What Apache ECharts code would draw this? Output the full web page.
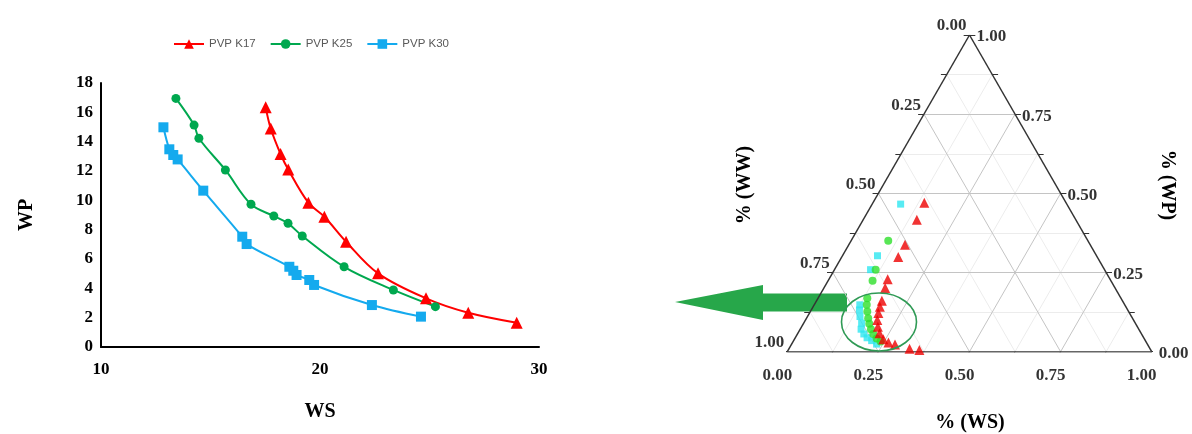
<!DOCTYPE html>
<html>
<head>
<meta charset="utf-8">
<script src="https://cdn.jsdelivr.net/npm/echarts@6/dist/echarts.min.js"></script>
<style>html,body{margin:0;padding:0;background:#fff}#main{width:1192px;height:434px}</style>
</head>
<body>
<div id="main"></div>
<script>
// 左图：WS - WP
var k17WS = [17.52, 17.75, 18.2, 18.55, 19.47, 20.2, 21.19, 22.65, 24.84, 26.77, 28.98];
var k17WP = [16.34, 14.9, 13.16, 12.1, 9.84, 8.88, 7.18, 5.02, 3.32, 2.34, 1.66];
var k25WS = [13.42, 14.25, 14.47, 15.68, 16.85, 17.89, 18.54, 19.19, 21.1, 23.35, 25.27];
var k25WP = [16.95, 15.13, 14.23, 12.07, 9.73, 8.93, 8.43, 7.57, 5.47, 3.89, 2.75];
var k30WS = [12.85, 13.12, 13.3, 13.5, 14.67, 16.45, 16.65, 18.6, 18.78, 18.93, 19.51, 19.73, 22.37, 24.61];
var k30WP = [14.98, 13.48, 13.09, 12.79, 10.66, 7.52, 7.02, 5.47, 5.2, 4.91, 4.57, 4.23, 2.86, 2.07];

// 右图：三元相图 [WS, WP]（分数）
var terK17 = [[0.141, 0.470], [0.147, 0.417], [0.154, 0.338], [0.155, 0.299], [0.161, 0.229], [0.168, 0.201],
    [0.179, 0.161], [0.183, 0.142], [0.189, 0.122], [0.197, 0.100], [0.209, 0.079], [0.224, 0.058],
    [0.244, 0.039], [0.263, 0.029], [0.284, 0.023], [0.331, 0.009], [0.360, 0.005]];
var terK25 = [[0.102, 0.350], [0.113, 0.259], [0.122, 0.224], [0.135, 0.169], [0.144, 0.148], [0.156, 0.127],
    [0.169, 0.106], [0.181, 0.088], [0.194, 0.071], [0.208, 0.056], [0.224, 0.042], [0.240, 0.032]];
var terK30 = [[0.078, 0.466], [0.096, 0.303], [0.099, 0.259], [0.125, 0.148], [0.132, 0.132], [0.144, 0.111],
    [0.159, 0.090], [0.167, 0.071], [0.182, 0.056], [0.197, 0.044], [0.214, 0.035], [0.233, 0.024]];
var terTicks = [0, 0.25, 0.5, 0.75, 1];

var H = Math.sqrt(3) / 2;
function tern(ws, wp) { return [ws + wp / 2, wp * H]; }
function zip(a, b) { return a.map(function (v, i) { return [v, b[i]]; }); }

var serif = "'Liberation Serif', 'Times New Roman', serif";

// 三元网格线
var minorLines = [], majorLines = [], edgeLines = [], tickLines = [];
for (var i = 1; i < 8; i++) {
    var t = i / 8;
    var segs = [
        [tern(0, t), tern(1 - t, t)],          // WP = t
        [tern(t, 0), tern(t, 1 - t)],          // WS = t
        [tern(1 - t, 0), tern(0, 1 - t)]       // WW = t
    ];
    segs.forEach(function (s) {
        (i % 2 === 0 ? majorLines : minorLines).push({ coords: s });
    });
}
edgeLines.push({ coords: [tern(0, 0), tern(1, 0)] });
edgeLines.push({ coords: [tern(1, 0), tern(0, 1)] });
edgeLines.push({ coords: [tern(0, 1), tern(0, 0)] });
for (var j = 0; j <= 8; j++) {
    var s = j / 8, p;
    p = tern(s, 0);
    tickLines.push({ coords: [p, [p[0] - 0.007, p[1] - 0.012]] });
    p = tern(0, 1 - s);
    tickLines.push({ coords: [p, [p[0] - 0.016, p[1]]] });
    p = tern(1 - s, s);
    tickLines.push({ coords: [p, [p[0] + 0.016, p[1]]] });
}

var lblStyle = { fontFamily: serif, fontWeight: 'bold', fontSize: 17, color: '#000' };
var bottomLabels = terTicks.map(function (v) {
    return { value: tern(v, 0), label: { show: true, formatter: v.toFixed(2), position: 'inside', offset: [-10, 24], align: 'center' } };
});
var leftLabels = terTicks.map(function (v) {
    return { value: tern(0, 1 - v), label: { show: true, formatter: v.toFixed(2), position: 'inside', offset: [-3, -9], align: 'right' } };
});
var rightLabels = terTicks.map(function (v) {
    return { value: tern(1 - v, v), label: { show: true, formatter: v.toFixed(2), position: 'inside', offset: [7, 2], align: 'left' } };
});

var myChart = echarts.init(document.getElementById('main'));

var terBase = { coordinateSystem: 'cartesian2d', xAxisIndex: 1, yAxisIndex: 1, silent: true, animation: false };

var option = {
    backgroundColor: '#fff',
    animation: false,
    legend: {
        data: ['PVP K17', 'PVP K25', 'PVP K30'],
        left: 168,
        top: 33,
        itemWidth: 30,
        itemHeight: 12,
        itemGap: 14,
        textStyle: { color: '#595959', fontSize: 11.5, fontFamily: "'Liberation Sans', Arial, sans-serif" }
    },
    grid: [
        { left: 101, top: 83, width: 438, height: 264 },
        { left: 787.3, top: 35, width: 364.4, height: 316.7 }
    ],
    xAxis: [{
        type: 'value', min: 10, max: 30, interval: 10,
        name: 'WS', nameLocation: 'middle', nameGap: 55,
        nameTextStyle: { fontFamily: serif, fontWeight: 'bold', fontSize: 20, color: '#000' },
        axisLine: { lineStyle: { color: '#000', width: 2 } },
        axisTick: { show: false },
        splitLine: { show: false },
        axisLabel: { fontFamily: serif, fontWeight: 'bold', fontSize: 17, color: '#000', margin: 14 }
    }, {
        gridIndex: 1, type: 'value', min: 0, max: 1, show: false
    }],
    yAxis: [{
        type: 'value', min: 0, max: 18, interval: 2,
        name: 'WP', nameLocation: 'middle', nameGap: 64, nameRotate: 90,
        nameTextStyle: { fontFamily: serif, fontWeight: 'bold', fontSize: 20, color: '#000' },
        axisLine: { show: true, lineStyle: { color: '#000', width: 2 } },
        axisTick: { show: false },
        splitLine: { show: false },
        axisLabel: { fontFamily: serif, fontWeight: 'bold', fontSize: 17, color: '#000', margin: 8 }
    }, {
        gridIndex: 1, type: 'value', min: 0, max: H, show: false
    }],
    graphic: [
        { type: 'polygon', z: 1, shape: { points: [[675, 302], [763, 285], [763, 293.5], [847, 293.5], [847, 311.5], [763, 311.5], [763, 320]] }, style: { fill: '#27a74a' } },
        { type: 'ellipse', z: 100, shape: { cx: 879, cy: 322, rx: 37.5, ry: 29 }, style: { fill: 'none', stroke: '#2f9a55', lineWidth: 1.6 } },
        { type: 'text', x: 745, y: 185, rotation: Math.PI / 2, style: { text: '% (WW)', font: 'bold 20px ' + serif, fill: '#000', textAlign: 'center', textVerticalAlign: 'middle', align: 'center', verticalAlign: 'middle' } },
        { type: 'text', x: 1167, y: 185, rotation: -Math.PI / 2, style: { text: '% (WP)', font: 'bold 20px ' + serif, fill: '#000', textAlign: 'center', textVerticalAlign: 'middle', align: 'center', verticalAlign: 'middle' } },
        { type: 'text', x: 970, y: 423, style: { text: '% (WS)', font: 'bold 20px ' + serif, fill: '#000', textAlign: 'center', textVerticalAlign: 'middle', align: 'center', verticalAlign: 'middle' } }
    ],
    series: [
        {
            name: 'PVP K17', type: 'line', smooth: 0.35, data: zip(k17WS, k17WP),
            symbol: 'triangle', symbolSize: 12, color: '#ff0000', lineStyle: { width: 2 }
        },
        {
            name: 'PVP K25', type: 'line', smooth: 0.35, data: zip(k25WS, k25WP),
            symbol: 'circle', symbolSize: 9, color: '#00a84f', lineStyle: { width: 2 }
        },
        {
            name: 'PVP K30', type: 'line', smooth: 0.35, data: zip(k30WS, k30WP),
            symbol: 'rect', symbolSize: 10, color: '#14aaee', lineStyle: { width: 2 }
        },
        Object.assign({ type: 'lines', z: 1, data: minorLines, lineStyle: { color: '#ececec', width: 1, opacity: 1 } }, terBase),
        Object.assign({ type: 'lines', z: 1, data: majorLines, lineStyle: { color: '#c4c4c4', width: 1, opacity: 1 } }, terBase),
        Object.assign({ type: 'lines', z: 3, data: edgeLines, lineStyle: { color: '#333', width: 1.5, opacity: 1 } }, terBase),
        Object.assign({ type: 'lines', z: 3, data: tickLines, lineStyle: { color: '#333', width: 1, opacity: 1 } }, terBase),
        Object.assign({ name: 'ter-labels', type: 'scatter', symbolSize: 1, itemStyle: { color: 'rgba(0,0,0,0)' },
            label: lblStyle, data: bottomLabels.concat(leftLabels, rightLabels) }, terBase),
        Object.assign({ name: 'ter-K30', type: 'scatter', z: 4, symbol: 'rect', symbolSize: 7, itemStyle: { color: '#2ee6f0' },
            data: terK30.map(function (d) { return tern(d[0], d[1]); }) }, terBase),
        Object.assign({ name: 'ter-K25', type: 'scatter', z: 5, symbol: 'circle', symbolSize: 8, itemStyle: { color: '#2ee02a' },
            data: terK25.map(function (d) { return tern(d[0], d[1]); }) }, terBase),
        Object.assign({ name: 'ter-K17', type: 'scatter', z: 6, symbol: 'triangle', symbolSize: 10, itemStyle: { color: '#ee0000' },
            data: terK17.map(function (d) { return tern(d[0], d[1]); }) }, terBase)
    ]
};

myChart.setOption(option);
window.addEventListener('resize', function () {
    myChart.resize();
});
</script>
</body>
</html>
